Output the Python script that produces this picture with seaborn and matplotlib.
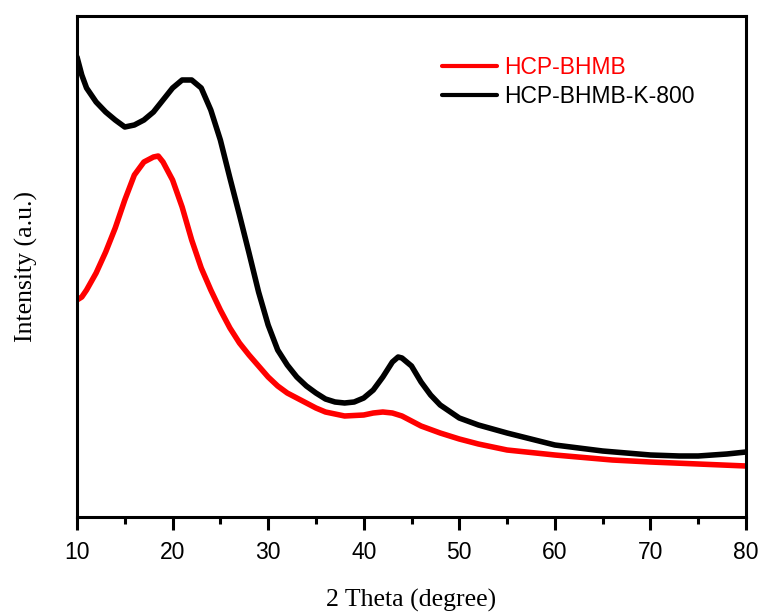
import numpy as np
import pandas as pd
import matplotlib
matplotlib.use("Agg")
import matplotlib.pyplot as plt
import seaborn as sns

# ---- data (intensity in arbitrary units) ----
theta_red = [10, 10.5, 11, 12, 13, 14, 15, 16, 17, 18, 18.5, 19, 20, 21, 22, 23, 24, 25,
             26, 27, 28, 29, 30, 31, 32, 33, 34, 35, 36, 38, 40, 41, 42, 43, 44, 45, 46,
             48, 50, 52, 55, 60, 66, 70, 75, 80]
red_y_px = [300, 297, 290, 273, 252, 228, 200, 175, 162, 157, 156, 162, 180, 207, 240, 268,
            290, 310, 328, 343, 355, 366, 377, 386, 393, 398, 403, 408, 412, 416, 415, 413,
            412, 413, 416, 421, 426, 433, 439, 444, 450, 455, 460, 462, 464, 466]

theta_black = [10, 10.5, 11, 12, 13, 14, 15, 16, 17, 18, 19, 20, 21, 22, 23, 24, 25, 26, 27,
               28, 29, 30, 31, 32, 33, 34, 35, 36, 37, 38, 39, 40, 41, 42, 43, 43.6, 44, 45,
               46, 47, 48, 50, 52, 55, 60, 65, 70, 73, 75, 78, 80]
black_y_px = [57, 75, 88, 102, 112, 120, 127, 125, 120, 112, 100, 88, 80, 80, 88, 110, 140,
              178, 215, 253, 292, 325, 350, 365, 377, 386, 393, 399, 402, 403, 402, 398, 390,
              377, 362, 357, 358, 366, 382, 395, 405, 418, 425, 433, 445, 451, 455, 456, 456,
              454, 452]

series_names = ["HCP-BHMB", "HCP-BHMB-K-800"]
series_colors = ["#ff0000", "#000000"]
x_ticks = [10, 20, 30, 40, 50, 60, 70, 80]

BASE = 517.0
red_int = [BASE - v for v in red_y_px]
black_int = [BASE - v for v in black_y_px]

df = pd.concat([
    pd.DataFrame({"theta": theta_red, "I": red_int, "sample": series_names[0]}),
    pd.DataFrame({"theta": theta_black, "I": black_int, "sample": series_names[1]}),
], ignore_index=True)

sns.set_style("ticks")
plt.rcParams["font.family"] = ["Liberation Sans", "DejaVu Sans"]
plt.rcParams["text.color"] = "black"
plt.rcParams["axes.labelcolor"] = "black"
plt.rcParams["xtick.color"] = "black"
plt.rcParams["ytick.color"] = "black"

fig = plt.figure(figsize=(7.67, 6.12), dpi=100)
ax = fig.add_axes([77 / 767, 1 - 517 / 612, (746 - 77) / 767, (517 - 16) / 612])

sns.lineplot(data=df, x="theta", y="I", hue="sample", palette=series_colors,
             hue_order=series_names, linewidth=4.0, ax=ax, sort=False, estimator=None)

ax.set_xlim(10, 80)
ax.set_ylim(0, 501)
ax.set_xticks(x_ticks)
ax.set_xticks(np.arange(15, 80, 10), minor=True)
ax.set_yticks([])
ax.tick_params(axis="x", which="major", direction="out", length=9.5, width=2.2,
               labelsize=16.5, pad=8, color="black", labelcolor="black")
ax.tick_params(axis="x", which="minor", direction="out", length=5, width=2.2, color="black")
for s in ax.spines.values():
    s.set_linewidth(2.2)
    s.set_color("black")
    s.set_visible(True)

ax.set_xlabel("2 Theta (degree)", family=["Liberation Serif", "DejaVu Serif"], fontsize=18.5,
              labelpad=18, color="black")
ax.set_ylabel("Intensity (a.u.)", family=["Liberation Serif", "DejaVu Serif"], fontsize=18.5,
              labelpad=28, color="black")

leg = ax.legend(loc="upper left", bbox_to_anchor=((442 - 77) / 669, (517 - 56) / 501),
                frameon=False, fontsize=16.5, handlelength=2.4, handletextpad=0.3,
                labelspacing=0.27, borderpad=0, borderaxespad=0)
for line in leg.get_lines():
    line.set_linewidth(3.0)
for txt, c in zip(leg.get_texts(), series_colors):
    txt.set_color(c)

fig.savefig("out.png", dpi=100)
